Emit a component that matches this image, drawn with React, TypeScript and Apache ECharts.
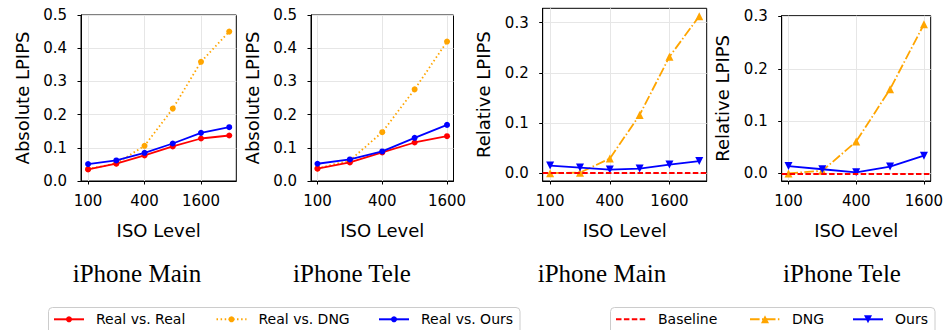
import React, { useEffect, useRef } from "react";
import * as echarts from "echarts";

const ISO_MAIN = [100, 200, 400, 800, 1600, 3200];
const ISO_TELE = [100, 200, 400, 800, 1600];
const X_TICKS = [100, 400, 1600];

const MAIN_ABS_REAL = [0.035, 0.052, 0.077, 0.104, 0.128, 0.137];
const MAIN_ABS_DNG = [0.036, 0.053, 0.106, 0.218, 0.359, 0.45];
const MAIN_ABS_OURS = [0.051, 0.062, 0.085, 0.113, 0.145, 0.162];

const TELE_ABS_REAL = [0.037, 0.056, 0.086, 0.116, 0.135];
const TELE_ABS_DNG = [0.038, 0.062, 0.147, 0.276, 0.42];
const TELE_ABS_OURS = [0.052, 0.065, 0.089, 0.13, 0.169];

const MAIN_REL_DNG = [0.0, 0.001, 0.029, 0.116, 0.232, 0.313];
const MAIN_REL_OURS = [0.015, 0.011, 0.007, 0.009, 0.017, 0.024];
const TELE_REL_DNG = [0.0, 0.005, 0.061, 0.161, 0.285];
const TELE_REL_OURS = [0.014, 0.008, 0.002, 0.013, 0.034];
const BASELINE = 0;

const ABS_Y_TICKS = [0, 0.1, 0.2, 0.3, 0.4, 0.5];
const REL_Y_TICKS = [0, 0.1, 0.2, 0.3];

const PANEL_TITLES = ["iPhone Main", "iPhone Tele", "iPhone Main", "iPhone Tele"];
const LEGEND_ABS = ["Real vs. Real", "Real vs. DNG", "Real vs. Ours"];
const LEGEND_REL = ["Baseline", "DNG", "Ours"];

const FONT = "DejaVu Sans";
const RED = "#ff0000";
const ORANGE = "#ffa500";
const BLUE = "#0000ff";
const LW = 1.8;
const DOTTED = [1.5, 2.6];
const DASHED = [5.5, 2.4];
const DASHDOT = [9.6, 2.4, 1.5, 2.4];

const toX = (iso: number) => Math.log2(iso / 100);

const GRIDS = [
  { left: 81, top: 15, width: 155.3, height: 166 },
  { left: 311, top: 15, width: 142.5, height: 166 },
  { left: 542.7, top: 8.3, width: 164, height: 172.7 },
  { left: 781.7, top: 15.7, width: 152, height: 165.3 },
];

function xAxisFor(gridIndex: number, isos: number[]) {
  const lo = toX(isos[0]);
  const hi = toX(isos[isos.length - 1]);
  const pad = (hi - lo) * 0.05;
  const ticks = X_TICKS.map(toX);
  return {
    type: "value",
    gridIndex,
    min: lo - pad,
    max: hi + pad,
    name: "ISO Level",
    nameLocation: "middle",
    nameGap: 40,
    nameTextStyle: { fontFamily: FONT, fontSize: 18, color: "#000" },
    axisLine: { show: true, onZero: false, lineStyle: { color: "#000", width: 1 } },
    axisTick: { show: true, customValues: ticks, length: 3.5, lineStyle: { color: "#000", width: 1 } },
    axisLabel: {
      customValues: ticks,
      formatter: (v: number) => String(Math.round(100 * Math.pow(2, v))),
      margin: 12,
      fontFamily: FONT,
      fontSize: 15,
      color: "#000",
    },
    splitLine: { show: true, lineStyle: { color: "#e6e6e6", width: 1 } },
  };
}

function yAxisFor(gridIndex: number, name: string, min: number, max: number, ticks: number[]) {
  return {
    type: "value",
    gridIndex,
    min,
    max,
    name,
    nameLocation: "middle",
    nameGap: 50,
    nameTextStyle: { fontFamily: FONT, fontSize: 18, color: "#000" },
    axisLine: { show: true, onZero: false, lineStyle: { color: "#000", width: 1 } },
    axisTick: { show: true, customValues: ticks, length: 3.5, lineStyle: { color: "#000", width: 1 } },
    axisLabel: {
      customValues: ticks,
      formatter: (v: number) => v.toFixed(1),
      margin: 14,
      fontFamily: FONT,
      fontSize: 15,
      color: "#000",
    },
    splitLine: { show: true, lineStyle: { color: "#e6e6e6", width: 1 } },
  };
}

function lineSeries(
  name: string,
  idx: number,
  isos: number[],
  vals: number[],
  color: string,
  type: any,
  symbol: string,
  symbolSize: number,
  z: number,
  rotate = 0
) {
  return {
    type: "line",
    name,
    xAxisIndex: idx,
    yAxisIndex: idx,
    data: isos.map((iso, i) => [toX(iso), vals[i]]),
    symbol,
    symbolSize,
    symbolRotate: rotate,
    showSymbol: true,
    lineStyle: { color, width: LW, type },
    itemStyle: { color, borderWidth: 0 },
    z,
    silent: true,
  };
}

function baselineSeries(idx: number) {
  return {
    type: "line",
    name: "Baseline",
    xAxisIndex: idx,
    yAxisIndex: idx,
    data: [],
    symbol: "none",
    lineStyle: { color: RED, width: LW, type: DASHED },
    itemStyle: { color: RED },
    z: 1,
    silent: true,
    markLine: {
      silent: true,
      symbol: "none",
      label: { show: false },
      lineStyle: { color: RED, width: LW, type: DASHED },
      data: [{ yAxis: BASELINE }],
    },
  };
}

const TITLE_X = [137, 352, 602, 842];
const LEG_ABS_X = [53, 215.5, 378];
const LEG_REL_X = [615, 749, 852];

function buildOption() {
  const series: any[] = [
    lineSeries(LEGEND_ABS[1], 0, ISO_MAIN, MAIN_ABS_DNG, ORANGE, DOTTED, "circle", 6, 1),
    lineSeries(LEGEND_ABS[0], 0, ISO_MAIN, MAIN_ABS_REAL, RED, "solid", "circle", 6, 2),
    lineSeries(LEGEND_ABS[2], 0, ISO_MAIN, MAIN_ABS_OURS, BLUE, "solid", "circle", 6, 3),
    lineSeries(LEGEND_ABS[1], 1, ISO_TELE, TELE_ABS_DNG, ORANGE, DOTTED, "circle", 6, 1),
    lineSeries(LEGEND_ABS[0], 1, ISO_TELE, TELE_ABS_REAL, RED, "solid", "circle", 6, 2),
    lineSeries(LEGEND_ABS[2], 1, ISO_TELE, TELE_ABS_OURS, BLUE, "solid", "circle", 6, 3),
    baselineSeries(2),
    lineSeries(LEGEND_REL[1], 2, ISO_MAIN, MAIN_REL_DNG, ORANGE, DASHDOT, "triangle", 8, 2),
    lineSeries(LEGEND_REL[2], 2, ISO_MAIN, MAIN_REL_OURS, BLUE, "solid", "triangle", 8, 3, 180),
    baselineSeries(3),
    lineSeries(LEGEND_REL[1], 3, ISO_TELE, TELE_REL_DNG, ORANGE, DASHDOT, "triangle", 8, 2),
    lineSeries(LEGEND_REL[2], 3, ISO_TELE, TELE_REL_OURS, BLUE, "solid", "triangle", 8, 3, 180),
  ];

  const legendBase = {
    orient: "horizontal",
    padding: 0,
    itemWidth: 30,
    itemGap: 0,
    selectedMode: false,
    symbolRotate: "inherit",
    textStyle: {
      fontFamily: FONT,
      fontSize: 14,
      color: "#000",
      lineHeight: 16,
      padding: [0, 0, 0, 7],
    },
  };
  const legends: any[] = [];
  LEGEND_ABS.forEach((n, i) => {
    legends.push({ ...legendBase, left: LEG_ABS_X[i], top: 311.3, itemHeight: 7.5, data: [n] });
  });
  LEGEND_REL.forEach((n, i) => {
    legends.push({
      ...legendBase,
      left: LEG_REL_X[i],
      top: 311.3,
      itemHeight: 10,
      data: [n],
      ...(n === "Baseline" ? { itemStyle: { opacity: 0 } } : {}),
    });
  });

  const graphic: any[] = [
    {
      type: "rect",
      z: 0,
      shape: { x: 48.5, y: 307.5, width: 471.5, height: 40, r: 4 },
      style: { fill: "#fff", stroke: "#cccccc", lineWidth: 1 },
    },
    {
      type: "rect",
      z: 0,
      shape: { x: 610.5, y: 307.5, width: 324.5, height: 40, r: 4 },
      style: { fill: "#fff", stroke: "#cccccc", lineWidth: 1 },
    },
    ...PANEL_TITLES.map((t, i) => ({
      type: "text",
      x: TITLE_X[i],
      y: 273,
      style: {
        text: t,
        fontFamily: "Liberation Serif",
        fontSize: 25,
        fill: "#000",
        align: "center",
        verticalAlign: "middle",
      },
    })),
  ];

  return {
    animation: false,
    backgroundColor: "#fff",
    textStyle: { fontFamily: FONT },
    grid: GRIDS.map((g) => ({
      ...g,
      show: true,
      borderColor: "#000",
      borderWidth: 1,
      backgroundColor: "transparent",
      containLabel: false,
    })),
    xAxis: [
      xAxisFor(0, ISO_MAIN),
      xAxisFor(1, ISO_TELE),
      xAxisFor(2, ISO_MAIN),
      xAxisFor(3, ISO_TELE),
    ],
    yAxis: [
      yAxisFor(0, "Absolute LPIPS", 0, 0.5, ABS_Y_TICKS),
      yAxisFor(1, "Absolute LPIPS", 0, 0.5, ABS_Y_TICKS),
      yAxisFor(2, "Relative LPIPS", -0.0157, 0.3287, REL_Y_TICKS),
      yAxisFor(3, "Relative LPIPS", -0.0145, 0.3015, REL_Y_TICKS),
    ],
    legend: legends,
    graphic,
    series,
  };
}

export default function App() {
  const ref = useRef<HTMLDivElement>(null);
  useEffect(() => {
    if (!ref.current) return;
    const chart = echarts.init(ref.current, null, { renderer: "svg" });
    chart.setOption(buildOption() as any);
    return () => chart.dispose();
  }, []);
  return (
    <div
      ref={ref}
      style={{ position: "fixed", left: 0, top: 0, width: 946, height: 330, background: "#fff" }}
    />
  );
}
